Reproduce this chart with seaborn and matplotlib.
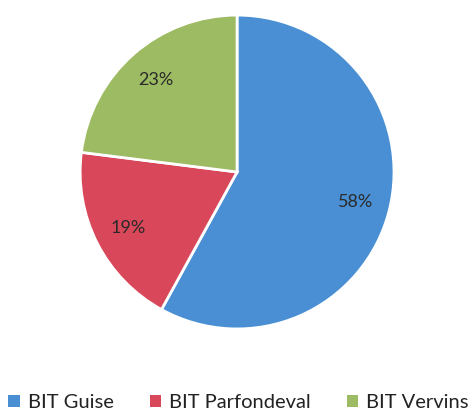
import matplotlib
matplotlib.use("Agg")
import matplotlib.pyplot as plt
import seaborn as sns
from matplotlib.patches import Patch

categories = ["BIT Guise", "BIT Parfondeval", "BIT Vervins"]
values = [58, 19, 23]
colors = ["#4a8fd4", "#d9475a", "#9cbb62"]

sns.set_theme(style="white")
plt.rcParams['font.family'] = ['Lato', 'DejaVu Sans']

fig = plt.figure(figsize=(4.77, 4.17), dpi=100)
fig.patch.set_facecolor("white")
ax = fig.add_axes([0.168, 0.211, 0.658, 0.753])
pal = sns.color_palette(colors)
wedges, texts, autotexts = ax.pie(
    values, colors=pal, startangle=90, counterclock=False,
    autopct=lambda p: f"{p:.0f}%", pctdistance=0.78,
    wedgeprops=dict(edgecolor="white", linewidth=2),
    textprops=dict(fontsize=13, color="#2a2a2a"))
ax.set_xlim(-1, 1)
ax.set_ylim(-1, 1)
ax.set_aspect("equal")
ax.axis("off")

handles = [Patch(facecolor=c, edgecolor="none") for c in pal]
fig.legend(handles, categories, loc="center", bbox_to_anchor=(0.5, 0.035),
           ncol=3, frameon=False, fontsize=14.5, handlelength=0.55, handleheight=0.55,
           handletextpad=0.4, columnspacing=1.8, labelcolor="#222222")

fig.savefig("out.png", dpi=100, facecolor="white")
